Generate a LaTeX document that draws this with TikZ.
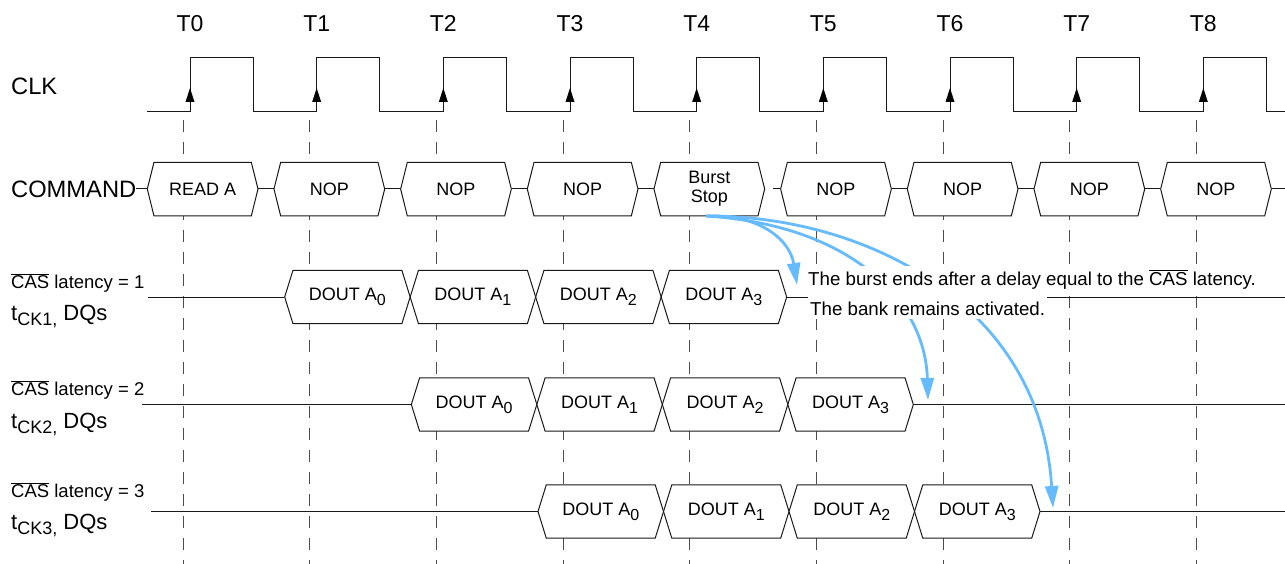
\documentclass[tikz,border=0pt]{standalone}
\usepackage{fontspec}
\setmainfont{Liberation Sans}
\usetikzlibrary{arrows.meta}
\definecolor{ablue}{RGB}{102,187,255}
\newcommand{\ovl}[1]{$\overline{\mbox{#1}}$}
\newcommand{\dsub}[1]{\raisebox{-5pt}{\fontsize{16}{16}\selectfont #1}}
\newcommand{\tsub}[1]{\raisebox{-5pt}{\fontsize{18}{18}\selectfont #1}}
\tikzset{
  sig/.style={line width=1pt, black!90},
  dashline/.style={line width=1pt, black!70, dash pattern=on 12pt off 10pt},
  boxtext/.style={inner sep=0pt, align=center, font=\fontsize{18}{19}\selectfont},
  biglabel/.style={inner sep=0pt, font=\fontsize{23.7}{23.7}\selectfont},
  tlabel/.style={inner sep=0pt, anchor=base, font=\fontsize{23}{23}\selectfont},
  cas/.style={inner sep=0pt, anchor=west, font=\fontsize{18.5}{18.5}\selectfont},
  tck/.style={inner sep=0pt, anchor=base west, font=\fontsize{22}{22}\selectfont},
  note/.style={fill=white, inner xsep=2pt, inner ysep=4pt, anchor=base west, font=\fontsize{18.7}{18.7}\selectfont},
  bluearrow/.style={ablue, line width=2.8pt, -{Triangle[length=22pt,width=13pt]}}
}
\begin{document}
\begin{tikzpicture}[x=1pt,y=-1pt]
\useasboundingbox (0,0) rectangle (1285,564);

% dashed time lines
\foreach \k in {0,...,8} {
  \pgfmathsetmacro\tx{183+126.667*\k}
  \draw[dashline] (\tx,120) -- (\tx,564);
}

% time labels
\foreach \k in {0,...,8} {
  \node[tlabel] (t\k) at ({190+126.667*\k},31.5) {T\k};
}

% CLK
\node[biglabel, anchor=west] (clklabel) at (11,86) {CLK};
\draw[sig] (147,111.7)
  \foreach \k in {0,...,8} {
    -- ({190+126.667*\k},111.7) -- ({190+126.667*\k},57.3)
    -- ({253.3+126.667*\k},57.3) -- ({253.3+126.667*\k},111.7)
  } -- (1285,111.7);
\foreach \k in {0,...,8} {
  \fill[black] ({190+126.667*\k},88) -- ++(4.5,14) -- ++(-9,0) -- cycle;
}

% COMMAND row
\node[biglabel, anchor=west] (cmdlabel) at (11,189) {COMMAND};
\foreach \k/\txt in {0/READ A,1/NOP,2/NOP,3/NOP,4/{Burst\\Stop},5/NOP,6/NOP,7/NOP,8/NOP} {
  \pgfmathsetmacro\L{147.3+126.667*\k}
  \pgfmathsetmacro\R{258+126.667*\k}
  \pgfmathsetmacro\W{\R-\L}
  \draw[sig, fill=white] (\L,189) -- (\L+6.7,162.3) -- (\R-6.7,162.3) -- (\R,189)
     -- (\R-6.7,216) -- (\L+6.7,216) -- cycle;
  \node[boxtext, minimum width=\W pt, minimum height=53.7pt] (cmd\k) at ({(\L+\R)/2},189) {\txt};
}
\draw[sig] (cmdlabel.east) -- (cmd0.west);
\foreach \k in {0,1,2,3,5,6,7} {
  \pgfmathtruncatemacro\n{\k+1}
  \draw[sig] (cmd\k.east) -- (cmd\n.west);
}
\draw[sig] ([xshift=8pt]cmd4.east) -- (cmd5.west);
\coordinate (cmdend) at (1285,189);
\draw[sig] (cmd8.east) -- (cmdend);

% DQ rows
\foreach \r/\ym/\xs in {1/297/148,2/404.5/142,3/511.5/151} {
  \coordinate (rs\r) at (\xs,\ym);
  \coordinate (re\r) at (1285,\ym);
  \foreach \i in {0,1,2,3} {
    \pgfmathsetmacro\X{190+126.667*\r-32+125.5*\i}
    \draw[sig, fill=white] (\X,\ym) -- (\X+8.3,\ym-26.7) -- (\X+117.2,\ym-26.7) -- (\X+125.5,\ym)
       -- (\X+117.2,\ym+26.7) -- (\X+8.3,\ym+26.7) -- cycle;
    \node[boxtext, minimum width=125.5pt, minimum height=53.4pt] (dq\r\i) at ({\X+62.75},\ym) {DOUT A\dsub{\i}};
  }
  \draw[sig] (rs\r) -- (dq\r0.west);
  \draw[sig] (dq\r3.east) -- (re\r);
}

% row labels
\node[cas] (cas1) at (11,282.7) {\ovl{CAS} latency = 1};
\node[tck] (tck1) at (11,320) {t\tsub{CK1,} DQs};
\node[cas] (cas2) at (11,390) {\ovl{CAS} latency = 2};
\node[tck] (tck2) at (11,428) {t\tsub{CK2,} DQs};
\node[cas] (cas3) at (11,492) {\ovl{CAS} latency = 3};
\node[tck] (tck3) at (11,529) {t\tsub{CK3,} DQs};

% blue arrows
\draw[bluearrow] ([xshift=-3pt]cmd4.south) .. controls (760,214) and (790,240) .. (797,285);
\draw[bluearrow] ([xshift=-3pt]cmd4.south) .. controls (850,225) and (925,300) .. (928,400);
\draw[bluearrow] ([xshift=-3pt]cmd4.south) .. controls (860,215) and (1040,300) .. (1053,508);

% annotation
\node[note, text depth=6pt] (n1) at (806,285) {The burst ends after a delay equal to the \ovl{CAS} latency.};
\node[note, text height=16pt] (n2) at (808,315) {The bank remains activated.};
\end{tikzpicture}
\end{document}
